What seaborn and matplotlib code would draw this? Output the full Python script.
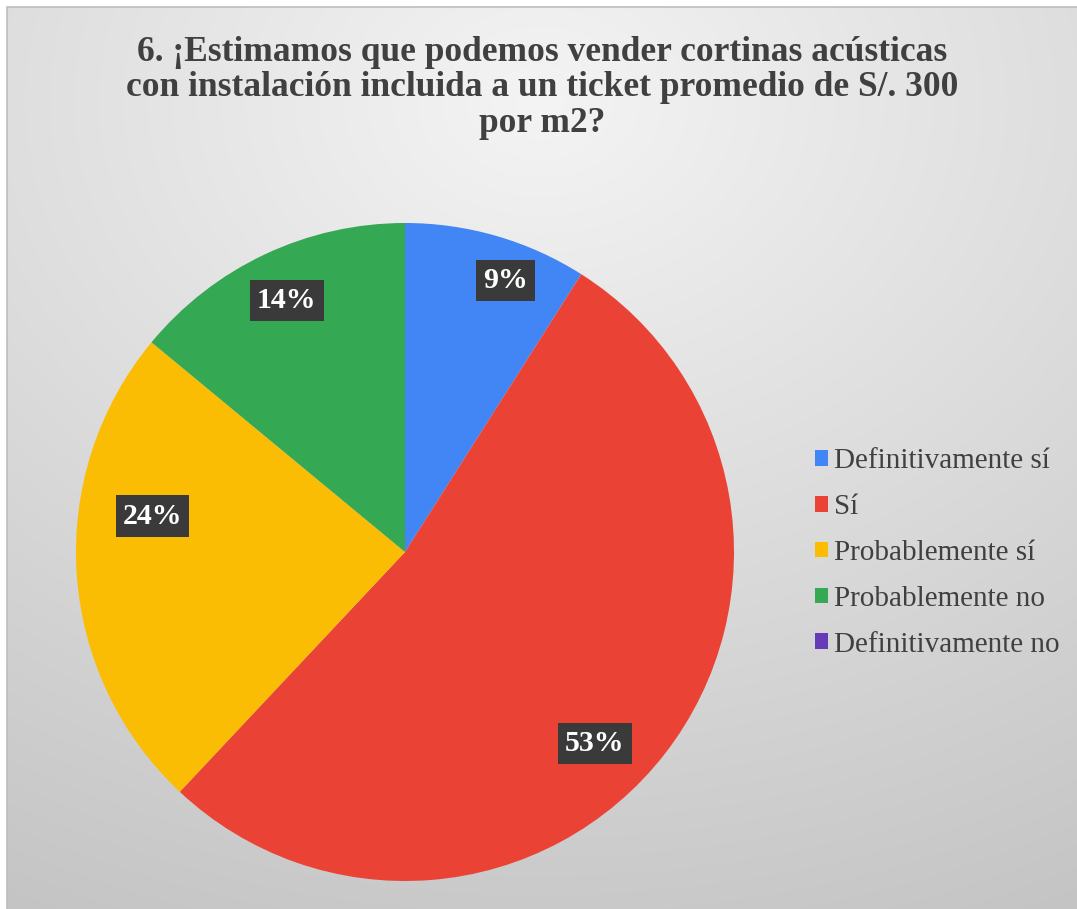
import numpy as np
import matplotlib
matplotlib.use("Agg")
import matplotlib.pyplot as plt
from matplotlib.patches import Patch, Rectangle
import seaborn as sns

# Survey answers and their share of respondents (%)
categories = ["Definitivamente sí", "Sí", "Probablemente sí",
              "Probablemente no", "Definitivamente no"]
shares = [9, 53, 24, 14, 0]
slice_colors = ["#4285F4", "#EA4335", "#FBBC04", "#34A853", "#673AB7"]
title = ("6. ¡Estimamos que podemos vender cortinas acústicas\n"
         "con instalación incluida a un ticket promedio de S/. 300\n"
         "por m2?")

# Label placement: radial fraction and angular nudge (degrees) per slice
label_radius = [0.88, 0.82, 0.775, 0.845, 0.8]
label_nudge = [-4.2, -7.5, -11.7, 0.0, 0.0]

sns.set_theme(style="white")
plt.rcParams["font.family"] = ["Liberation Serif", "DejaVu Serif"]
palette = sns.color_palette(slice_colors)

W, H = 1077, 909
fig = plt.figure(figsize=(W / 100, H / 100), dpi=100)
fig.patch.set_facecolor("white")

# Soft grey radial background of the chart area
bg = fig.add_axes([7 / W, 0, (W - 7) / W, (H - 7) / H], zorder=0)
yy, xx = np.mgrid[0:902, 0:1070]
dist = np.sqrt(((xx - 533) / 1.3) ** 2 + (yy - 95) ** 2)
shade = np.clip(244 - 0.053 * dist, 190, 246) / 255.0
bg.imshow(np.dstack([shade] * 3), aspect="auto", interpolation="bilinear")
bg.set_axis_off()
fig.add_artist(Rectangle((7 / W, -0.01), 1.0, (H - 7) / H + 0.01,
                         transform=fig.transFigure, fill=False,
                         ec="#BDBDBD", lw=1.2, zorder=1))

# Pie
cx, cy, r = 405, 552, 329
ax = fig.add_axes([(cx - r) / W, (H - cy - r) / H, 2 * r / W, 2 * r / H], zorder=2)
wedges, _ = ax.pie(shares, colors=palette, startangle=90, counterclock=False,
                   radius=1.0, wedgeprops=dict(linewidth=0))
ax.set_xlim(-1, 1)
ax.set_ylim(-1, 1)
ax.set_axis_off()

for w, val, rf, nudge in zip(wedges, shares, label_radius, label_nudge):
    if val <= 0:
        continue
    ang = np.deg2rad((w.theta1 + w.theta2) / 2 + nudge)
    ax.text(rf * np.cos(ang), rf * np.sin(ang), f"{val}%",
            ha="center", va="center", color="white", fontsize=21.5,
            fontweight="bold",
            bbox=dict(boxstyle="square,pad=0.24", fc="#3A3A3A", ec="none"))

fig.text(542 / W, 1 - 88 / H, title, ha="center", va="center",
         fontsize=25.5, fontweight="bold", color="#404040", linespacing=1.09)

handles = [Patch(facecolor=c, edgecolor="none") for c in palette]
fig.legend(handles, categories, loc="center left",
           bbox_to_anchor=(815 / W, 1 - 553 / H), frameon=False,
           fontsize=21, labelcolor="#404040", handlelength=0.45,
           handleheight=0.45, handletextpad=0.2, labelspacing=0.68,
           borderpad=0, borderaxespad=0)

fig.savefig("out.png", dpi=100)
